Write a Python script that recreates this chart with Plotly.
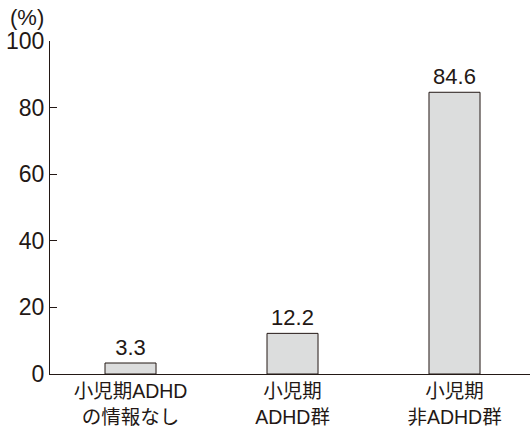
import plotly.graph_objects as go

categories = ["小児期ADHD<br>の情報なし", "小児期<br>ADHD群", "小児期<br>非ADHD群"]
values = [3.3, 12.2, 84.6]
y_ticks = [0, 20, 40, 60, 80, 100]

FONT = "Liberation Sans, Arial, Noto Sans CJK JP, sans-serif"
DARK = "#231815"

fig = go.Figure(go.Bar(
    x=list(range(len(categories))),
    y=values,
    width=0.315,
    marker=dict(color="#dcdddd", line=dict(color=DARK, width=1)),
    text=[f"{v:.1f}" for v in values],
    textposition="outside",
    textfont=dict(family=FONT, size=22, color=DARK),
    cliponaxis=False,
))

fig.update_layout(
    width=530, height=428,
    margin=dict(l=50, r=0, t=41, b=54),
    plot_bgcolor="white", paper_bgcolor="white",
    showlegend=False,
    font=dict(family=FONT, color=DARK),
    xaxis=dict(
        range=[-0.497, 2.466], automargin=False,
        tickmode="array", tickvals=list(range(len(categories))), ticktext=categories,
        showline=True, linecolor=DARK, linewidth=1,
        ticks="", showgrid=False, zeroline=False,
        tickfont=dict(family=FONT, size=19.5, color=DARK),
    ),
    yaxis=dict(
        range=[0, 100], automargin=False,
        tickmode="array", tickvals=y_ticks,
        showline=True, linecolor=DARK, linewidth=1,
        ticks="inside", ticklen=7, tickcolor=DARK,
        showgrid=False, zeroline=False,
        tickfont=dict(family=FONT, size=23, color=DARK),
    ),
    annotations=[dict(
        text="(%)", xref="paper", yref="paper", x=-0.0875, y=1.072,
        xanchor="left", yanchor="middle", showarrow=False,
        font=dict(family=FONT, size=22, color=DARK),
    )],
)

fig.write_html("out.html")
